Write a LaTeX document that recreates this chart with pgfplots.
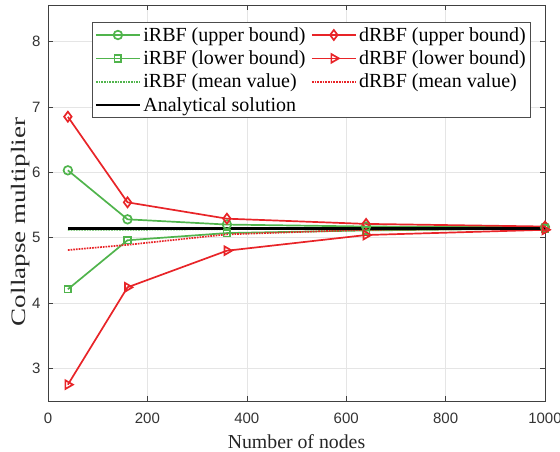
\documentclass[border=0pt]{standalone}
\usepackage{fontspec}
\setmainfont{Liberation Serif}
\newfontfamily\arialf{Liberation Sans}
\usepackage{pgfplots}
\pgfplotsset{compat=1.18}
\definecolor{gr}{RGB}{80,180,76}
\definecolor{rd}{RGB}{232,36,40}
\newcommand{\legtxt}[1]{\rmfamily\fontsize{20}{21}\selectfont #1}
\begin{document}
\begin{tikzpicture}
\begin{axis}[
  scale only axis, width=497pt, height=396pt,
  xmin=0, xmax=1000, ymin=2.5, ymax=8.56,
  xtick={0,200,400,600,800,1000},
  ytick={3,4,5,6,7,8},
  tick align=inside,
  major tick length=5pt,
  grid=major, grid style={gray!20, line width=0.6pt},
  axis line style={black!75, line width=0.8pt},
  tick style={black!75, line width=0.6pt},
  /pgf/number format/assume math mode=true,
  /pgf/number format/1000 sep={},
  ticklabel style={font=\arialf\fontsize{15}{17}\selectfont, text=black!80},
  xticklabel style={yshift=-8pt},
  yticklabel style={xshift=-4pt},
  xlabel={Number of nodes}, ylabel={Collapse multiplier},
  xlabel style={at={(axis description cs:0.5,-0.1035)}, anchor=center, font=\rmfamily\fontsize{19.8}{22}\selectfont, text=black!85},
  ylabel style={at={(axis description cs:-0.0543,0.452)}, anchor=center, font=\rmfamily\fontsize{20.5}{22}\selectfont, text=black!85, transform shape, xscale=1.32},
  legend columns=2,
  legend cell align=left,
  legend image code/.code={\draw[mark repeat=2,mark phase=2] plot coordinates {(0pt,0pt) (22pt,0pt) (44pt,0pt)};},
  legend style={at={(0.0885,0.957)}, anchor=north west, font=\rmfamily\fontsize{20}{21}\selectfont,
    draw=black!70, line width=0.8pt, inner sep=2.5pt, row sep=3.2pt,
    nodes={inner sep=2.4pt},
    /tikz/every odd column/.append style={column sep=0pt},
    /tikz/every even column/.append style={column sep=3pt}},
]
\addplot[gr, line width=1.7pt, mark=o, mark size=4.3pt, mark options={solid}] coordinates {(40,6.03) (160,5.28) (360,5.20) (640,5.17) (1000,5.16)};
\addlegendentry{\legtxt{iRBF (upper bound)}}
\addplot[rd, line width=1.7pt, mark=diamond, mark size=5pt, mark options={solid}] coordinates {(40,6.85) (160,5.54) (360,5.29) (640,5.21) (1000,5.17)};
\addlegendentry{\legtxt{dRBF (upper bound)}}
\addplot[gr, line width=1.7pt, mark=square, mark size=3.3pt, mark options={solid}] coordinates {(40,4.21) (160,4.96) (360,5.07) (640,5.11) (1000,5.14)};
\addlegendentry{\legtxt{iRBF (lower bound)}}
\addplot[rd, line width=1.7pt, mark=triangle, mark size=5pt, mark options={solid, rotate=-90}] coordinates {(40,2.75) (160,4.24) (360,4.80) (640,5.04) (1000,5.12)};
\addlegendentry{\legtxt{dRBF (lower bound)}}
\addplot[gr, line width=1.7pt, densely dotted] coordinates {(40,5.12) (160,5.12) (360,5.13) (640,5.14) (1000,5.15)};
\addlegendentry{\legtxt{iRBF (mean value)}}
\addplot[rd, line width=1.7pt, densely dotted] coordinates {(40,4.81) (160,4.89) (360,5.05) (640,5.12) (1000,5.14)};
\addlegendentry{\legtxt{dRBF (mean value)}}
\addplot[black, line width=2.1pt] coordinates {(40,5.14) (1000,5.14)};
\addlegendentry{\legtxt{Analytical solution}}
\end{axis}
\pgfresetboundingbox
\path[use as bounding box] ([xshift=-48pt,yshift=-51pt]current axis.south west) rectangle ([xshift=15pt,yshift=5pt]current axis.north east);
\end{tikzpicture}
\end{document}
